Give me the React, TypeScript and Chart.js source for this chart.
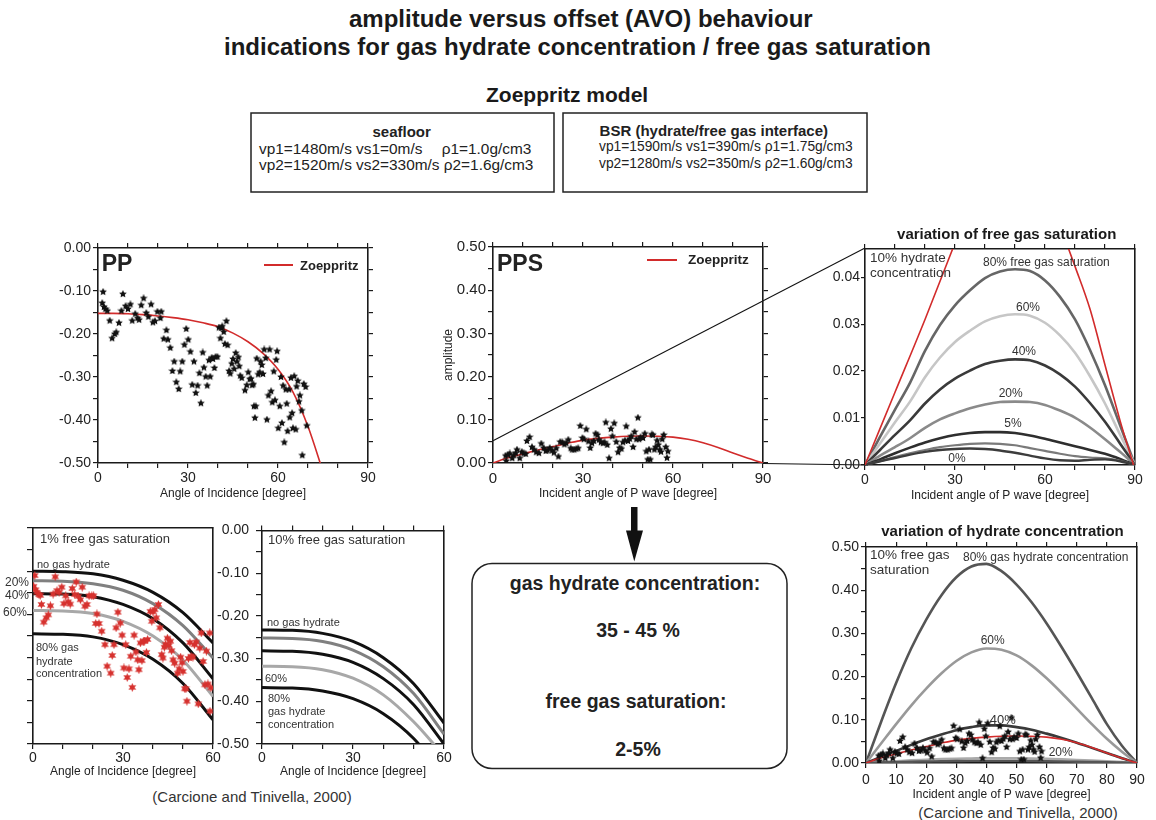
import React, { useEffect, useRef } from 'react';
import { Chart, registerables } from 'chart.js';

Chart.register(...registerables);

const FONT = '"Liberation Sans", Arial, Helvetica, sans-serif';
const RED = '#d22b2b';

type Pair = [number, number];

// ---------- observed amplitudes (angle [deg], amplitude) ----------
const PP_OBS: Pair[] = [
  [1.4, -0.128], [1.7, -0.102], [2.0, -0.137], [2.5, -0.142], [3.1, -0.146], [3.9, -0.169], [4.7, -0.21], [5.6, -0.2],
  [6.1, -0.196], [7.0, -0.174], [7.8, -0.146], [8.3, -0.107], [9.2, -0.135], [10.0, -0.142], [10.8, -0.131], [11.4, -0.169],
  [12.4, -0.153], [13.2, -0.163], [13.7, -0.167], [14.4, -0.133], [15.2, -0.117], [16.1, -0.151], [16.8, -0.16], [17.7, -0.131],
  [18.3, -0.173], [19.0, -0.17], [19.8, -0.148], [20.8, -0.163], [21.1, -0.148], [21.9, -0.211], [22.8, -0.191], [23.3, -0.213],
  [24.1, -0.232], [24.8, -0.286], [25.4, -0.264], [26.1, -0.312], [26.9, -0.328], [27.4, -0.287], [28.1, -0.264], [28.8, -0.225],
  [29.4, -0.188], [30.1, -0.213], [30.8, -0.241], [31.4, -0.318], [32.0, -0.264], [32.6, -0.337], [33.2, -0.32], [33.8, -0.291],
  [34.3, -0.361], [34.9, -0.243], [35.3, -0.278], [35.9, -0.299], [36.4, -0.32], [37.0, -0.261], [37.4, -0.299], [37.9, -0.255],
  [38.3, -0.258], [38.8, -0.279], [39.2, -0.253], [39.8, -0.253], [40.3, -0.185], [40.8, -0.21], [41.1, -0.186], [41.4, -0.182],
  [41.9, -0.195], [42.3, -0.223], [42.8, -0.17], [43.2, -0.226], [43.7, -0.286], [44.1, -0.292], [44.6, -0.269], [45.0, -0.258],
  [45.4, -0.281], [45.9, -0.244], [46.3, -0.264], [46.8, -0.254], [47.1, -0.275], [47.4, -0.297], [47.9, -0.302], [49.0, -0.331],
  [49.6, -0.319], [50.1, -0.289], [50.6, -0.305], [51.0, -0.304], [51.4, -0.319], [51.8, -0.317], [52.0, -0.368], [52.6, -0.368],
  [52.3, -0.395], [52.9, -0.257], [53.4, -0.294], [53.9, -0.289], [54.2, -0.264], [54.6, -0.272], [55.0, -0.293], [55.4, -0.236],
  [55.9, -0.256], [56.3, -0.399], [56.8, -0.343], [57.2, -0.236], [57.7, -0.333], [58.1, -0.359], [58.6, -0.287], [59.0, -0.354],
  [59.4, -0.26], [59.7, -0.24], [60.1, -0.419], [60.6, -0.368], [61.0, -0.3], [61.3, -0.407], [61.7, -0.32], [62.1, -0.452],
  [62.6, -0.329], [62.9, -0.362], [63.2, -0.426], [63.7, -0.329], [63.9, -0.394], [64.3, -0.302], [64.7, -0.384], [65.0, -0.419],
  [65.4, -0.298], [65.9, -0.422], [66.2, -0.322], [66.6, -0.309], [67.0, -0.357], [67.3, -0.343], [67.9, -0.378], [68.1, -0.482],
  [68.6, -0.316], [69.2, -0.323], [69.6, -0.413],
];

const PPS_OBS: Pair[] = [
  [4.2, 0.017], [4.4, 0.005], [5.0, 0.019], [5.6, 0.022], [6.4, 0.011], [6.9, 0.018], [7.6, 0.023], [8.0, 0.031],
  [8.9, 0.011], [9.6, 0.026], [10.2, 0.022], [10.9, 0.021], [11.3, 0.051], [12.2, 0.06], [13.0, 0.037], [13.7, 0.031],
  [14.4, 0.025], [15.3, 0.023], [16.1, 0.045], [16.9, 0.035], [17.6, 0.028], [18.2, 0.029], [18.9, 0.035], [19.7, 0.029],
  [20.3, 0.024], [21.1, 0.034], [21.8, 0.015], [22.4, 0.049], [23.1, 0.048], [23.8, 0.043], [24.4, 0.046], [25.1, 0.054],
  [25.9, 0.034], [26.4, 0.031], [27.1, 0.031], [27.8, 0.033], [28.4, 0.034], [29.1, 0.086], [29.8, 0.058], [30.3, 0.055],
  [31.1, 0.078], [31.8, 0.05], [32.4, 0.035], [33.0, 0.046], [33.6, 0.051], [34.2, 0.068], [34.8, 0.065], [35.3, 0.054],
  [36.0, 0.048], [36.7, 0.046], [37.2, 0.048], [37.6, 0.094], [38.1, 0.042], [38.7, 0.011], [39.3, 0.079], [39.8, 0.062],
  [40.4, 0.092], [41.1, 0.049], [41.7, 0.025], [42.2, 0.035], [42.8, 0.033], [43.3, 0.048], [44.0, 0.052], [44.4, 0.085],
  [45.0, 0.051], [45.6, 0.056], [46.1, 0.062], [46.7, 0.037], [47.2, 0.072], [47.8, 0.055], [48.3, 0.105], [48.7, 0.055],
  [49.2, 0.06], [50.0, 0.058], [50.6, 0.068], [51.1, 0.027], [51.6, 0.008], [52.0, 0.031], [52.4, 0.008], [52.9, 0.066],
  [53.3, 0.065], [53.8, 0.031], [54.2, 0.037], [54.7, 0.052], [55.1, 0.042], [55.6, 0.031], [56.0, 0.026], [56.4, 0.055],
  [56.9, 0.065], [57.6, 0.037], [58.0, 0.012], [58.3, 0.027],
];

const PP_1PCT_OBS: Pair[] = [
  [0.6, -0.11], [0.2, -0.135], [0.9, -0.143], [1.3, -0.149], [2.0, -0.154], [2.4, -0.156], [2.8, -0.177], [3.6, -0.218],
  [4.4, -0.208], [5.1, -0.201], [5.8, -0.18], [6.7, -0.153], [7.4, -0.113], [8.0, -0.145], [8.7, -0.149], [9.6, -0.137],
  [10.3, -0.175], [10.9, -0.157], [11.7, -0.171], [12.4, -0.176], [13.1, -0.14], [13.9, -0.154], [14.4, -0.125], [15.1, -0.158],
  [15.8, -0.166], [16.4, -0.137], [17.3, -0.181], [18.0, -0.177], [18.7, -0.157], [19.6, -0.157], [20.2, -0.157], [21.3, -0.199],
  [20.9, -0.221], [22.0, -0.221], [22.9, -0.239], [24.0, -0.27], [24.7, -0.32], [25.9, -0.336], [26.4, -0.295], [27.0, -0.27],
  [27.7, -0.231], [28.3, -0.195], [29.1, -0.22], [29.7, -0.248], [30.3, -0.324], [30.9, -0.27], [31.4, -0.346], [32.0, -0.326],
  [32.6, -0.297], [33.1, -0.369], [33.7, -0.248], [34.3, -0.287], [34.9, -0.305], [35.3, -0.328], [35.8, -0.266], [36.3, -0.307],
  [36.8, -0.262], [37.2, -0.262], [37.8, -0.288], [38.2, -0.258], [39.1, -0.193], [39.6, -0.216], [40.0, -0.194], [40.6, -0.189],
  [41.1, -0.208], [41.8, -0.177], [42.3, -0.231], [42.9, -0.293], [43.3, -0.301], [43.8, -0.276], [44.2, -0.269], [44.8, -0.255],
  [45.3, -0.272], [45.8, -0.262], [46.2, -0.284], [46.7, -0.305], [47.2, -0.313], [48.2, -0.336], [48.7, -0.326], [49.2, -0.299],
  [49.7, -0.312], [50.0, -0.332], [50.6, -0.372], [51.0, -0.372], [51.3, -0.401], [51.8, -0.302], [52.3, -0.265], [52.7, -0.297],
  [53.3, -0.299], [53.8, -0.27], [54.4, -0.264], [55.1, -0.407], [55.6, -0.278], [56.1, -0.243], [56.7, -0.309], [57.3, -0.363],
  [57.8, -0.285], [58.3, -0.361], [58.9, -0.243], [59.3, -0.37], [59.0, -0.424],
];

// ---------- Zoeppritz model curves ----------
const ANG_5 = [0, 5, 10, 15, 20, 25, 30, 35, 40, 45, 50, 55, 60, 65, 70, 75, 80, 85, 90];
const ANG_10_60 = [0, 10, 20, 30, 40, 50, 60];

const PP_ZOEPP_ANG = [0, 5, 10, 15, 20, 25, 30, 35, 40, 45, 50, 55, 60, 65, 70, 75];
const PP_ZOEPP = [-0.152, -0.152, -0.153, -0.155, -0.158, -0.162, -0.167, -0.174, -0.183, -0.198, -0.218, -0.245, -0.282, -0.335, -0.415, -0.52];

const PPS_ZOEPP = [0, 0.012, 0.021, 0.03, 0.038, 0.046, 0.053, 0.057, 0.06, 0.062, 0.0625, 0.062, 0.06, 0.055, 0.047, 0.036, 0.023, 0.011, 0];

// free gas saturation at 10 % hydrate concentration (PPS)
const FG_80 = [0, 0.006, 0.0118, 0.0175, 0.0243, 0.0298, 0.034, 0.0372, 0.0398, 0.0412, 0.0417, 0.0413, 0.0393, 0.0358, 0.031, 0.0245, 0.017, 0.0085, 0];
const FG_60 = [0, 0.0046, 0.0091, 0.0135, 0.0187, 0.0229, 0.0262, 0.0286, 0.0306, 0.0317, 0.0321, 0.0318, 0.0303, 0.0276, 0.0239, 0.0189, 0.0131, 0.0065, 0];
const FG_40 = [0, 0.0032, 0.0064, 0.0095, 0.0131, 0.0161, 0.0184, 0.0201, 0.0215, 0.0222, 0.0225, 0.0223, 0.0212, 0.0193, 0.0167, 0.0132, 0.0092, 0.0046, 0];
const FG_20 = [0, 0.002, 0.0038, 0.0057, 0.0079, 0.0097, 0.011, 0.0121, 0.0129, 0.0134, 0.0135, 0.0134, 0.0128, 0.0116, 0.0101, 0.008, 0.0055, 0.0028, 0];
const FG_5 = [0, 0.0012, 0.0025, 0.0037, 0.0048, 0.0057, 0.0064, 0.0068, 0.007, 0.007, 0.0068, 0.0063, 0.0056, 0.0048, 0.004, 0.0032, 0.0024, 0.0013, 0];
const FG_1 = [0, 0.0008, 0.0017, 0.0025, 0.0032, 0.0038, 0.0042, 0.0045, 0.0046, 0.0045, 0.0042, 0.0036, 0.003, 0.0024, 0.0019, 0.0016, 0.0014, 0.0009, 0];
const FG_0 = [0, 0.0008, 0.0015, 0.0022, 0.0028, 0.0032, 0.0034, 0.0035, 0.0034, 0.0031, 0.0026, 0.002, 0.0014, 0.001, 0.0009, 0.0011, 0.0012, 0.0008, 0];
const FG_FIELD_RISE_ANG = [0, 10, 20, 30];
const FG_FIELD_RISE = [0, 0.0155, 0.031, 0.0473];
const FG_FIELD_FALL_ANG = [67, 70, 75, 80, 85, 89.5];
const FG_FIELD_FALL = [0.0475, 0.0423, 0.0332, 0.0213, 0.0095, 0];

// hydrate concentration at 10 % free gas saturation (PPS)
const HY_80 = [0, 0.095, 0.185, 0.265, 0.332, 0.388, 0.43, 0.455, 0.461, 0.444, 0.413, 0.372, 0.323, 0.268, 0.21, 0.15, 0.09, 0.04, 0];
const HY_60 = [0, 0.045, 0.09, 0.133, 0.172, 0.207, 0.236, 0.256, 0.265, 0.262, 0.249, 0.226, 0.196, 0.162, 0.126, 0.09, 0.056, 0.026, 0];
const HY_40 = [0, 0.014, 0.028, 0.042, 0.055, 0.066, 0.076, 0.083, 0.087, 0.087, 0.083, 0.077, 0.068, 0.058, 0.047, 0.035, 0.023, 0.011, 0];
const HY_20 = [0, 0.002, 0.004, 0.006, 0.0075, 0.009, 0.01, 0.0105, 0.011, 0.011, 0.011, 0.0105, 0.0095, 0.0085, 0.007, 0.0055, 0.004, 0.002, 0];
const HY_LOW = [0, 0.001, 0.002, 0.003, 0.0035, 0.004, 0.0045, 0.005, 0.005, 0.005, 0.005, 0.0045, 0.004, 0.0035, 0.003, 0.0025, 0.002, 0.001, 0];

// PP curves, 1 % free gas saturation
const PP1_NO_HYD = [-0.1, -0.101, -0.106, -0.121, -0.149, -0.196, -0.266];
const PP1_H20 = [-0.122, -0.123, -0.129, -0.144, -0.175, -0.226, -0.301];
const PP1_H40 = [-0.152, -0.153, -0.159, -0.177, -0.21, -0.266, -0.349];
const PP1_H60 = [-0.191, -0.192, -0.198, -0.216, -0.25, -0.306, -0.39];
const PP1_H80 = [-0.245, -0.246, -0.252, -0.27, -0.304, -0.36, -0.444];

// PP curves, 10 % free gas saturation
const PP10_NO_HYD = [-0.233, -0.234, -0.241, -0.26, -0.298, -0.359, -0.451];
const PP10_H20 = [-0.252, -0.253, -0.26, -0.28, -0.319, -0.382, -0.477];
const PP10_H40 = [-0.282, -0.283, -0.29, -0.309, -0.347, -0.408, -0.5];
const PP10_H60 = [-0.318, -0.319, -0.326, -0.346, -0.385, -0.448, -0.528];
const PP10_H80 = [-0.368, -0.369, -0.376, -0.394, -0.429, -0.487, -0.573];

// ---------- helpers ----------
const toPts = (xs: number[], ys: number[]) => xs.map((x, i) => ({ x, y: ys[i] }));
const pairPts = (p: Pair[]) => p.map(([x, y]) => ({ x, y }));

function starSprite(size: number, color: string, arms: number, innerRatio: number) {
  const c = document.createElement('canvas');
  c.width = size;
  c.height = size;
  const g = c.getContext('2d')!;
  g.fillStyle = color;
  g.beginPath();
  const r = size / 2;
  for (let i = 0; i < arms * 2; i++) {
    const rad = i % 2 === 0 ? r : r * innerRatio;
    const a = -Math.PI / 2 + (i * Math.PI) / arms;
    g.lineTo(r + rad * Math.cos(a), r + rad * Math.sin(a));
  }
  g.closePath();
  g.fill();
  return c;
}

const fmt2 = (v: number) => v.toFixed(2);
const everyTenth = (v: number) => (Math.round(v * 100) % 10 === 0 ? fmt2(v) : '');
const every30 = (v: number) => (Math.round(v) % 30 === 0 ? String(Math.round(v)) : '');
const every10 = (v: number) => String(Math.round(v));

interface AxisSpec {
  min: number;
  max: number;
  step: number;
  label?: (v: number) => string;
  tickLen?: number;
  pad?: number;
  font?: number;
  title?: string;
}

interface PanelSpec {
  box: [number, number, number, number];
  area: [number, number, number, number];
  x: AxisSpec;
  y: AxisSpec;
  marks: { left: boolean; bottom: boolean; top: boolean; right: boolean };
  datasets: (stars: { black: HTMLCanvasElement; red: HTMLCanvasElement }) => any[];
}

function makeScale(position: string, size: number, ax: AxisSpec, marks: boolean, labels: boolean) {
  const horizontal = position === 'top' || position === 'bottom';
  const ticks: any = {
    display: labels && !!ax.label,
    stepSize: ax.step,
    includeBounds: false,
    autoSkip: false,
    maxRotation: 0,
    minRotation: 0,
    padding: ax.pad ?? 2,
    color: '#222',
    font: { family: FONT, size: ax.font ?? 14 },
  };
  if (labels && ax.label) {
    const f = ax.label;
    ticks.callback = (v: number) => f(v);
  }
  return {
    type: 'linear',
    axis: horizontal ? 'x' : 'y',
    position,
    min: ax.min,
    max: ax.max,
    afterFit: (s: any) => {
      if (horizontal) s.height = size;
      else s.width = size;
    },
    ticks,
    grid: {
      display: marks,
      drawOnChartArea: false,
      drawTicks: true,
      tickLength: ax.tickLen ?? 5,
      color: '#1a1a1a',
      lineWidth: 1.2,
    },
    border: { display: true, color: '#1a1a1a', width: 1.6 },
    title:
      labels && ax.title
        ? { display: true, text: ax.title, color: '#222', font: { family: FONT, size: 12 }, padding: { top: 0, bottom: 0 } }
        : { display: false },
  };
}

function lineDs(xs: number[], ys: number[], color: string, width: number) {
  return {
    data: toPts(xs, ys),
    showLine: true,
    pointRadius: 0,
    borderColor: color,
    borderWidth: width,
    cubicInterpolationMode: 'monotone',
    fill: false,
    xAxisID: 'x',
    yAxisID: 'y',
  };
}

function starDs(p: Pair[], sprite: HTMLCanvasElement) {
  return {
    data: pairPts(p),
    showLine: false,
    pointStyle: sprite,
    pointRadius: 4,
    xAxisID: 'x',
    yAxisID: 'y',
  };
}

function Panel({ spec }: { spec: PanelSpec }) {
  const ref = useRef<HTMLCanvasElement>(null);
  const [l, t, r, b] = spec.box;
  const [x0, y0, x1, y1] = spec.area;
  useEffect(() => {
    const stars = { black: starSprite(8, '#111', 5, 0.5), red: starSprite(9, '#d6312e', 6, 0.5) };
    const chart = new Chart(ref.current!, {
      type: 'scatter',
      data: { datasets: spec.datasets(stars) },
      options: {
        responsive: false,
        maintainAspectRatio: false,
        animation: false,
        events: [],
        layout: { padding: 0 },
        plugins: { legend: { display: false }, tooltip: { enabled: false }, title: { display: false } },
        scales: {
          x: makeScale('bottom', b - y1, spec.x, spec.marks.bottom, true),
          y: makeScale('left', x0 - l, spec.y, spec.marks.left, true),
          x2: makeScale('top', y0 - t, spec.x, spec.marks.top, false),
          y2: makeScale('right', r - x1, spec.y, spec.marks.right, false),
        },
      } as any,
    } as any);
    return () => chart.destroy();
  }, []);
  return (
    <canvas
      ref={ref}
      width={r - l}
      height={b - t}
      style={{ position: 'absolute', left: l, top: t, width: r - l, height: b - t }}
    />
  );
}

// ---------- panels ----------
const PP_PANEL: PanelSpec = {
  box: [50, 235, 380, 501],
  area: [98, 248, 368, 463],
  x: { min: 0, max: 90, step: 10, label: every30, title: 'Angle of Incidence [degree]', pad: 2 },
  y: { min: -0.5, max: 0, step: 0.05, label: everyTenth, pad: 2 },
  marks: { left: true, bottom: true, top: true, right: true },
  datasets: (s) => [starDs(PP_OBS, s.black), lineDs(PP_ZOEPP_ANG, PP_ZOEPP, RED, 1.6)],
};

const PPS_PANEL: PanelSpec = {
  box: [441, 234, 775, 501],
  area: [493, 247, 763, 463],
  x: { min: 0, max: 90, step: 10, label: every30, title: 'Incident angle of P wave [degree]', pad: 2, font: 15 },
  y: { min: 0, max: 0.5, step: 0.05, label: everyTenth, title: 'amplitude', pad: 2, font: 15 },
  marks: { left: true, bottom: true, top: true, right: true },
  datasets: (s) => [starDs(PPS_OBS, s.black), lineDs(ANG_5, PPS_ZOEPP, RED, 1.6)],
};

const FG_PANEL: PanelSpec = {
  box: [825, 236, 1148, 503],
  area: [865, 249, 1135, 465],
  x: { min: 0, max: 90, step: 10, label: every30, title: 'Incident angle of P wave [degree]', pad: 2 },
  y: { min: 0, max: 0.046, step: 0.01, label: fmt2, tickLen: 4, pad: 1 },
  marks: { left: true, bottom: true, top: true, right: false },
  datasets: () => [
    lineDs(FG_FIELD_RISE_ANG, FG_FIELD_RISE, RED, 1.6),
    lineDs(FG_FIELD_FALL_ANG, FG_FIELD_FALL, RED, 1.6),
    lineDs(ANG_5, FG_0, '#3c3c3c', 2.4),
    lineDs(ANG_5, FG_1, '#7a7a7a', 2.2),
    lineDs(ANG_5, FG_5, '#2e2e2e', 2.6),
    lineDs(ANG_5, FG_20, '#8a8a8a', 2.6),
    lineDs(ANG_5, FG_40, '#3a3a3a', 2.6),
    lineDs(ANG_5, FG_60, '#c6c6c6', 2.6),
    lineDs(ANG_5, FG_80, '#666666', 2.6),
  ],
};

const HY_PANEL: PanelSpec = {
  box: [820, 534, 1150, 802],
  area: [866, 547, 1137, 763],
  x: { min: 0, max: 90, step: 10, label: every10, title: 'Incident angle of P wave [degree]', pad: 4 },
  y: { min: 0, max: 0.5, step: 0.05, label: everyTenth, pad: 2 },
  marks: { left: true, bottom: true, top: true, right: false },
  datasets: (s) => [
    starDs(PPS_OBS, s.black),
    lineDs(ANG_5, PPS_ZOEPP, RED, 1.6),
    lineDs(ANG_5, HY_LOW, '#555555', 2.4),
    lineDs(ANG_5, HY_20, '#aaaaaa', 2.6),
    lineDs(ANG_5, HY_40, '#3a3a3a', 2.6),
    lineDs(ANG_5, HY_60, '#999999', 2.6),
    lineDs(ANG_5, HY_80, '#555555', 2.6),
  ],
};

const PP1_PANEL: PanelSpec = {
  box: [8, 516, 226, 779],
  area: [33, 528, 213, 744],
  x: { min: 0, max: 60, step: 10, label: every30, title: 'Angle of Incidence [degree]', pad: 1 },
  y: { min: -0.5, max: 0, step: 0.05, tickLen: 6 },
  marks: { left: true, bottom: true, top: false, right: false },
  datasets: (s) => [
    starDs(PP_1PCT_OBS, s.red),
    lineDs(ANG_10_60, PP1_H80, '#111111', 3),
    lineDs(ANG_10_60, PP1_H60, '#a8a8a8', 3),
    lineDs(ANG_10_60, PP1_H40, '#111111', 3),
    lineDs(ANG_10_60, PP1_H20, '#808080', 3),
    lineDs(ANG_10_60, PP1_NO_HYD, '#111111', 3),
  ],
};

const PP10_PANEL: PanelSpec = {
  box: [212, 515, 456, 779],
  area: [262, 528, 444, 744],
  x: { min: 0, max: 60, step: 10, label: every30, title: 'Angle of Incidence [degree]', pad: 1 },
  y: { min: -0.5, max: 0, step: 0.05, label: everyTenth, tickLen: 6, pad: 7 },
  marks: { left: true, bottom: true, top: true, right: false },
  datasets: () => [
    lineDs(ANG_10_60, PP10_H80, '#111111', 3),
    lineDs(ANG_10_60, PP10_H60, '#a8a8a8', 3),
    lineDs(ANG_10_60, PP10_H40, '#111111', 3),
    lineDs(ANG_10_60, PP10_H20, '#808080', 3),
    lineDs(ANG_10_60, PP10_NO_HYD, '#111111', 3),
  ],
};

// ---------- text ----------
type LabelProps = { x: number; y: number; text: string; size?: number; bold?: boolean; center?: boolean; color?: string };
function Label({ x, y, text, size = 13, bold = false, center = false, color = '#222' }: LabelProps) {
  return (
    <div
      style={{
        position: 'absolute',
        left: x,
        top: y,
        transform: center ? 'translate(-50%, -50%)' : 'translateY(-50%)',
        fontFamily: FONT,
        fontSize: size,
        fontWeight: bold ? 700 : 400,
        color,
        lineHeight: 1,
        whiteSpace: 'pre',
      }}
    >
      {text}
    </div>
  );
}

function LegendKey({ x, y, w }: { x: number; y: number; w: number }) {
  return <div style={{ position: 'absolute', left: x, top: y - 1, width: w, height: 2, background: RED }} />;
}

export default function App() {
  const note = '#333';
  return (
    <div
      style={{
        position: 'absolute',
        left: 0,
        top: 0,
        width: 1156,
        height: 820,
        background: '#fff',
        overflow: 'hidden',
        fontFamily: FONT,
      }}
    >
      {/* connecting lines, arrow and summary box */}
      <svg width={1156} height={820} style={{ position: 'absolute', left: 0, top: 0 }}>
        <line x1={493} y1={440.7} x2={865} y2={248} stroke="#111" strokeWidth={1.1} />
        <line x1={763} y1={463.5} x2={868} y2={465} stroke="#111" strokeWidth={1.1} />
        <rect x={251} y={113} width={303} height={79} fill="none" stroke="#222" strokeWidth={1.5} />
        <rect x={563} y={113} width={304} height={79} fill="none" stroke="#222" strokeWidth={1.5} />
        <rect x={472} y={563.5} width={315} height={205} rx={20} ry={20} fill="none" stroke="#222" strokeWidth={1.5} />
        <rect x={631} y={507} width={6.5} height={25} fill="#111" />
        <polygon points="626,530.5 643,530.5 634.3,561.5" fill="#111" />
      </svg>

      <Panel spec={PP_PANEL} />
      <Panel spec={PPS_PANEL} />
      <Panel spec={FG_PANEL} />
      <Panel spec={HY_PANEL} />
      <Panel spec={PP1_PANEL} />
      <Panel spec={PP10_PANEL} />

      {/* headings */}
      <Label x={349} y={19} text="amplitude versus offset (AVO) behaviour" size={24} bold color="#1a1a1a" />
      <Label x={224} y={47} text="indications for gas hydrate concentration / free gas saturation" size={24} bold color="#1a1a1a" />
      <Label x={486} y={94} text="Zoeppritz model" size={21} bold color="#1a1a1a" />

      <Label x={401.7} y={131} text="seafloor" size={15} bold center />
      <Label x={259} y={149} text="vp1=1480m/s vs1=0m/s" size={15.4} />
      <Label x={441.7} y={149} text="ρ1=1.0g/cm3" size={15.4} />
      <Label x={259} y={165} text="vp2=1520m/s vs2=330m/s ρ2=1.6g/cm3" size={15.4} />
      <Label x={713.8} y={130} text="BSR (hydrate/free gas interface)" size={15} bold center />
      <Label x={599} y={147} text="vp1=1590m/s vs1=390m/s ρ1=1.75g/cm3" size={13.8} />
      <Label x={599} y={163.5} text="vp2=1280m/s vs2=350m/s ρ2=1.60g/cm3" size={13.8} />

      {/* PP */}
      <Label x={101.7} y={263} text="PP" size={23} bold />
      <LegendKey x={264} y={265} w={29} />
      <Label x={300} y={265} text="Zoeppritz" size={13} bold />

      {/* PPS */}
      <Label x={497} y={263} text="PPS" size={23} bold />
      <LegendKey x={647} y={260} w={30} />
      <Label x={688} y={260} text="Zoeppritz" size={13.5} bold />

      {/* free gas saturation */}
      <Label x={1006.7} y={233} text="variation of free gas saturation" size={15} bold center color="#1a1a1a" />
      <Label x={870} y={258} text="10% hydrate" size={13.5} color={note} />
      <Label x={870} y={273} text="concentration" size={13.5} color={note} />
      <Label x={983} y={262} text="80% free gas saturation" size={12} color={note} />
      <Label x={1028} y={307} text="60%" size={12} center color={note} />
      <Label x={1024} y={351} text="40%" size={12} center color={note} />
      <Label x={1010.7} y={393} text="20%" size={12} center color={note} />
      <Label x={1013} y={423} text="5%" size={12} center color={note} />
      <Label x={957} y={458} text="0%" size={12} center color={note} />

      {/* hydrate concentration */}
      <Label x={1002.5} y={530} text="variation of hydrate concentration" size={15} bold center color="#1a1a1a" />
      <Label x={870} y={555} text="10% free gas" size={13.5} color={note} />
      <Label x={870} y={570} text="saturation" size={13.5} color={note} />
      <Label x={963} y={557} text="80% gas hydrate concentration" size={12} color={note} />
      <Label x={992.7} y={640} text="60%" size={12} center color={note} />
      <Label x={1002.7} y={719} text="40%" size={13} center color={note} />
      <Label x={1060.7} y={752} text="20%" size={12} center color={note} />
      <Label x={1018} y={812} text="(Carcione and Tinivella, 2000)" size={15} center color={note} />

      {/* 1 % free gas */}
      <Label x={40} y={538} text="1% free gas saturation" size={13} color={note} />
      <Label x={37} y={564} text="no gas hydrate" size={11} color={note} />
      <Label x={5} y={582} text="20%" size={12} color={note} />
      <Label x={5} y={595} text="40%" size={12} color={note} />
      <Label x={3} y={612} text="60%" size={12} color={note} />
      <Label x={36} y={647} text="80% gas" size={11} color={note} />
      <Label x={36} y={661} text="hydrate" size={11} color={note} />
      <Label x={36} y={673} text="concentration" size={11} color={note} />

      {/* 10 % free gas */}
      <Label x={268} y={539} text="10% free gas saturation" size={13} color={note} />
      <Label x={267} y={622} text="no gas hydrate" size={11} color={note} />
      <Label x={265} y={678} text="60%" size={11} color={note} />
      <Label x={268} y={698} text="80%" size={11} color={note} />
      <Label x={268} y={711} text="gas hydrate" size={11} color={note} />
      <Label x={268} y={724} text="concentration" size={11} color={note} />
      <Label x={252} y={795.5} text="(Carcione and Tinivella, 2000)" size={15} center color={note} />

      {/* summary */}
      <Label x={635} y={584} text="gas hydrate concentration:" size={19.5} bold center />
      <Label x={638} y={631} text="35 - 45 %" size={19.5} bold center />
      <Label x={636} y={702} text="free gas saturation:" size={19.5} bold center />
      <Label x={638} y={750} text="2-5%" size={19.5} bold center />
    </div>
  );
}
